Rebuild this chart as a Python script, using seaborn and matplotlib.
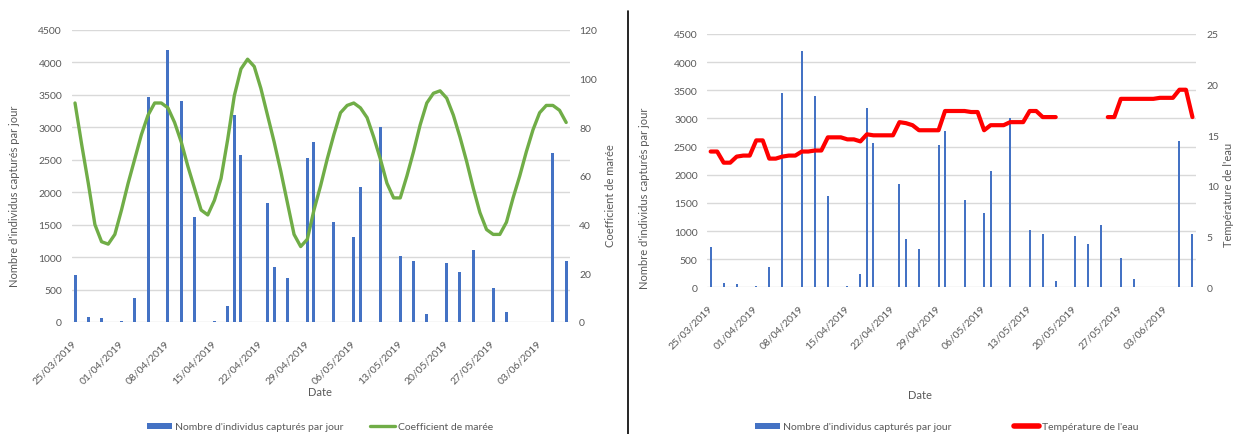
import numpy as np
import pandas as pd
import matplotlib
matplotlib.use("Agg")
import matplotlib.pyplot as plt
from matplotlib.patches import Patch
from matplotlib.lines import Line2D
import seaborn as sns

# ---- data -------------------------------------------------------------
dates = pd.date_range("2019-03-25", "2019-06-07", freq="D")
date_labels = list(dates.strftime("%d/%m/%Y"))
day_index = np.arange(len(dates))

# daily number of captured individuals (0 = no capture)
captures = [
    720, 0, 80, 0, 65, 0, 0, 15, 0, 365,
    0, 3460, 0, 0, 4190, 0, 3400, 0, 1620, 0,
    0, 20, 0, 245, 3190, 2570, 0, 0, 0, 1830,
    855, 0, 680, 0, 0, 2530, 2780, 0, 0, 1545,
    0, 0, 1315, 2075, 0, 0, 3010, 0, 0, 1010,
    0, 940, 0, 120, 0, 0, 915, 0, 775, 0,
    1105, 0, 0, 520, 0, 155, 0, 0, 0, 0,
    0, 0, 2600, 0, 940,
]

# tidal coefficient
tide_coef = [
    90, 73, 57, 40, 33, 32, 36, 46, 57, 67,
    77, 85, 90, 90, 88, 82, 74, 64, 55, 46,
    44, 50, 59, 75, 93, 104, 108, 105, 96, 85,
    74, 62, 49, 36, 31, 34, 46, 56, 67, 77,
    86, 89, 90, 88, 84, 76, 67, 57, 51, 51,
    60, 70, 81, 90, 94, 95, 92, 85, 76, 66,
    55, 45, 38, 36, 36, 41, 51, 60, 70, 79,
    86, 89, 89, 87, 82,
]

# water temperature (°C), missing readings as NaN
nan = np.nan
water_temp = [
    13.4, 13.4, 12.3, 12.3, 12.9, 13.0, 13.0, 14.5, 14.5, 12.7,
    12.7, 12.9, 13.0, 13.0, 13.4, 13.4, 13.5, 13.5, 14.8, 14.8,
    14.8, 14.6, 14.6, 14.4, 15.1, 15.0, 15.0, 15.0, 15.0, 16.3,
    16.2, 16.0, 15.5, 15.5, 15.5, 15.5, 17.4, 17.4, 17.4, 17.4,
    17.3, 17.3, 15.5, 16.0, 16.0, 16.0, 16.3, 16.3, 16.3, 17.4,
    17.4, 16.8, 16.8, 16.8, nan, nan, nan, nan, nan, nan,
    nan, 16.8, 16.8, 18.6, 18.6, 18.6, 18.6, 18.6, 18.6, 18.7,
    18.7, 18.7, 19.5, 19.5, 16.8,
]

count_ticks = list(range(0, 4501, 500))
tide_ticks = list(range(0, 121, 20))
temp_ticks = list(range(0, 26, 5))

count_label = "Nombre d'individus capturés par jour"
tide_label = "Coefficient de marée"
temp_label = "Température de l'eau"

# ---- style ------------------------------------------------------------
sns.set_theme(style="white")
plt.rcParams["font.family"] = ["Lato", "DejaVu Sans"]

BLUE = "#4472C4"
GREEN = "#70AD47"
RED = "#FF0000"
TXT = "#595959"
GRID = "#D9D9D9"

W, H = 1237, 435
fig = plt.figure(figsize=(W / 100, H / 100), dpi=100)


def rect(x0, x1, ytop, ybot):
    return [x0 / W, 1 - ybot / H, (x1 - x0) / W, (ybot - ytop) / H]


df = pd.DataFrame({
    "day": day_index,
    "date": date_labels,
    "captures": captures,
    "tide": tide_coef,
    "temp": water_temp,
})
# contiguous stretches of temperature readings
df["run"] = df["temp"].isna().cumsum()


def base_panel(ax, bar_width):
    sns.barplot(data=df, x="day", y="captures", ax=ax, native_scale=True,
                color=BLUE, saturation=1, width=bar_width, linewidth=0,
                errorbar=None)
    ax.set_xlim(-0.5, len(df) - 0.5)
    ax.set_ylim(0, 4500)
    ax.set_yticks(count_ticks)
    ax.set_yticklabels([str(t) for t in count_ticks])
    ax.grid(axis="y", color=GRID, linewidth=1)
    ax.set_axisbelow(True)
    for s in ax.spines.values():
        s.set_visible(False)
    ax.set_xticks(day_index[::7])
    ax.set_xticklabels(date_labels[::7], rotation=45, ha="right",
                       va="center", rotation_mode="anchor")
    ax.tick_params(axis="x", length=0, pad=14, labelsize=7.5, colors=TXT)
    ax.tick_params(axis="y", length=0, pad=7, labelsize=7.5, colors=TXT)
    ax.set_xlabel("")
    ax.set_ylabel("")


# ---- left panel: captures + tidal coefficient -------------------------
axL = fig.add_axes(rect(71.7, 569.5, 31, 323))
base_panel(axL, 0.45)
axL2 = axL.twinx()
sns.lineplot(data=df, x="day", y="tide", ax=axL2, color=GREEN,
             linewidth=2.4, solid_joinstyle="round", solid_capstyle="round")
axL2.set_ylim(0, 120)
axL2.set_yticks(tide_ticks)
axL2.set_yticklabels([str(t) for t in tide_ticks])
axL2.tick_params(axis="y", length=0, pad=7, labelsize=7.5, colors=TXT)
axL2.set_ylabel("")
axL2.grid(False)
for s in axL2.spines.values():
    s.set_visible(False)

# ---- right panel: captures + water temperature ------------------------
axR = fig.add_axes(rect(707.4, 1195.7, 35, 288.3))
base_panel(axR, 0.3)
axR2 = axR.twinx()
sns.lineplot(data=df.dropna(subset=["temp"]), x="day", y="temp",
             units="run", estimator=None, ax=axR2, color=RED,
             linewidth=3.0, solid_joinstyle="round", solid_capstyle="round")
axR2.set_ylim(0, 25)
axR2.set_yticks(temp_ticks)
axR2.set_yticklabels([str(t) for t in temp_ticks])
axR2.tick_params(axis="y", length=0, pad=8, labelsize=7.5, colors=TXT)
axR2.set_ylabel("")
axR2.grid(False)
for s in axR2.spines.values():
    s.set_visible(False)

# ---- axis titles ------------------------------------------------------
fs = 8
fig.text(15 / W, 1 - 196 / H, count_label, rotation=90, ha="center",
         va="center", fontsize=fs, color=TXT)
fig.text(611 / W, 1 - 196 / H, tide_label, rotation=90, ha="center",
         va="center", fontsize=fs, color=TXT)
fig.text(645 / W, 1 - 198 / H, count_label, rotation=90, ha="center",
         va="center", fontsize=fs, color=TXT)
fig.text(1229 / W, 1 - 195 / H, temp_label, rotation=90, ha="center",
         va="center", fontsize=fs, color=TXT)
fig.text(320 / W, 1 - 393 / H, "Date", ha="center", va="center",
         fontsize=fs, color=TXT)
fig.text(920 / W, 1 - 396 / H, "Date", ha="center", va="center",
         fontsize=fs, color=TXT)

# ---- legends ----------------------------------------------------------
legL = fig.legend(
    handles=[Patch(facecolor=BLUE, edgecolor="none"),
             Line2D([0], [0], color=GREEN, linewidth=2.4)],
    labels=[count_label, tide_label], loc="center",
    bbox_to_anchor=(320 / W, 1 - 428 / H), ncol=2, frameon=False,
    fontsize=7.5, handlelength=2.4, handleheight=0.5, handletextpad=0.3,
    columnspacing=2.6, labelcolor=TXT)
legR = fig.legend(
    handles=[Patch(facecolor=BLUE, edgecolor="none"),
             Line2D([0], [0], color=RED, linewidth=4)],
    labels=[count_label, temp_label], loc="center",
    bbox_to_anchor=(947 / W, 1 - 428 / H), ncol=2, frameon=False,
    fontsize=7.5, handlelength=2.4, handleheight=0.5, handletextpad=0.3,
    columnspacing=6.0, labelcolor=TXT)

# separator between the two charts
fig.add_artist(Line2D([628 / W, 628 / W], [0, 1 - 12 / H],
                      transform=fig.transFigure, color="black", linewidth=1.2))

fig.savefig("out.png", dpi=100, facecolor="white")
